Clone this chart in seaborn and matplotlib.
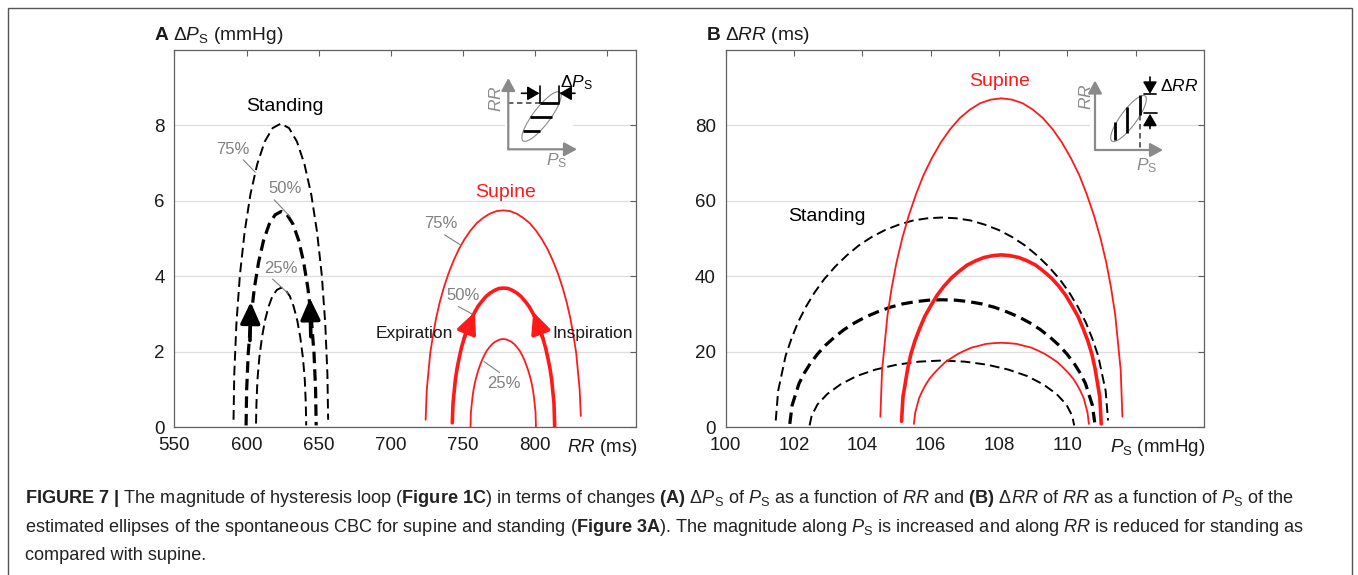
import matplotlib
matplotlib.use("Agg")
import matplotlib.pyplot as plt
import seaborn as sns
from matplotlib.patches import Ellipse, Rectangle

# ------------------------------------------------------------------ data
# Panel A : magnitude dPs (mmHg) as a function of RR (ms)
a_stand75_x = [591.0, 591.5, 593.0, 595.4, 598.7, 602.7, 607.4, 612.6, 618.1, 623.8,
               629.5, 635.0, 640.2, 644.9, 648.9, 652.2, 654.6, 656.1, 656.6]
a_stand75_y = [0.20, 1.40, 2.75, 4.03, 5.18, 6.17, 6.97, 7.57, 7.93, 8.05,
               7.93, 7.57, 6.97, 6.17, 5.18, 4.03, 2.75, 1.40, 0.20]
a_stand50_x = [599.7, 600.1, 601.2, 603.0, 605.4, 608.4, 611.8, 615.7, 619.8, 624.0,
               628.2, 632.3, 636.2, 639.6, 642.6, 645.0, 646.8, 647.9, 648.3]
a_stand50_y = [0.05, 1.00, 1.96, 2.86, 3.68, 4.38, 4.95, 5.38, 5.63, 5.72,
               5.63, 5.38, 4.95, 4.38, 3.68, 2.86, 1.96, 1.00, 0.05]
a_stand25_x = [606.6, 606.9, 607.6, 608.9, 610.7, 612.8, 615.3, 618.0, 621.0, 624.0,
               627.0, 630.0, 632.7, 635.2, 637.3, 639.1, 640.4, 641.1, 641.4]
a_stand25_y = [0.10, 0.64, 1.27, 1.85, 2.38, 2.83, 3.20, 3.48, 3.64, 3.70,
               3.64, 3.48, 3.20, 2.83, 2.38, 1.85, 1.27, 0.64, 0.05]
a_sup75_x = [724.2, 725.0, 727.4, 729.3, 731.4, 733.9, 736.8, 740.0, 743.4, 747.1, 751.1,
             755.2, 759.6, 764.1, 768.6, 773.3, 778.0,
             782.7, 787.4, 791.9, 796.4, 800.8, 804.9, 808.9, 812.6, 816.0, 819.2, 822.1,
             824.6, 826.7, 828.6, 831.0, 831.8]
a_sup75_y = [0.20, 1.00, 1.97, 2.43, 2.88, 3.30, 3.70, 4.07, 4.40, 4.71, 4.98,
             5.21, 5.41, 5.55, 5.66, 5.73, 5.75,
             5.73, 5.66, 5.55, 5.41, 5.21, 4.98, 4.71, 4.40, 4.07, 3.70, 3.30,
             2.88, 2.43, 1.97, 1.00, 0.30]
a_sup50_x = [742.7, 743.2, 744.8, 746.0, 747.5, 749.1, 751.0, 753.1, 755.4, 757.8, 760.4,
             763.2, 766.1, 769.0, 772.0, 775.1, 778.2,
             781.3, 784.4, 787.4, 790.3, 793.2, 796.0, 798.6, 801.0, 803.3, 805.4, 807.3,
             808.9, 810.4, 811.6, 813.2, 813.7]
a_sup50_y = [0.12, 0.64, 1.26, 1.56, 1.85, 2.12, 2.37, 2.61, 2.83, 3.02, 3.20,
             3.34, 3.47, 3.56, 3.63, 3.68, 3.69,
             3.68, 3.63, 3.56, 3.47, 3.34, 3.20, 3.02, 2.83, 2.61, 2.37, 2.12,
             1.85, 1.56, 1.26, 0.64, 0.00]
a_sup25_x = [755.3, 755.6, 756.7, 757.4, 758.3, 759.4, 760.6, 762.0, 763.4, 765.0, 766.6,
             768.4, 770.2, 772.1, 774.1, 776.0, 778.0,
             780.0, 781.9, 783.9, 785.8, 787.6, 789.4, 791.0, 792.6, 794.0, 795.4, 796.6,
             797.7, 798.6, 799.3, 800.4, 800.7]
a_sup25_y = [0.00, 0.41, 0.80, 0.99, 1.17, 1.34, 1.50, 1.65, 1.79, 1.92, 2.03,
             2.12, 2.20, 2.26, 2.30, 2.33, 2.34,
             2.33, 2.30, 2.26, 2.20, 2.12, 2.03, 1.92, 1.79, 1.65, 1.50, 1.34,
             1.17, 0.99, 0.80, 0.41, 0.00]

# Panel B : magnitude dRR (ms) as a function of Ps (mmHg)
b_sup75_x = [104.53, 104.58, 104.74, 104.86, 105.00, 105.17, 105.36, 105.57, 105.79, 106.04,
             106.30, 106.57, 106.86, 107.15, 107.45, 107.76, 108.07,
             108.38, 108.69, 108.99, 109.28, 109.57, 109.84, 110.10, 110.35, 110.57, 110.78,
             110.97, 111.14, 111.28, 111.40, 111.56, 111.61]
b_sup75_y = [2.8, 15.2, 29.8, 36.9, 43.6, 50.1, 56.1, 61.7, 66.8, 71.4,
             75.5, 79.0, 82.0, 84.2, 85.9, 86.85, 87.2,
             86.85, 85.9, 84.2, 82.0, 79.0, 75.5, 71.4, 66.8, 61.7, 56.1,
             50.1, 43.6, 36.9, 29.8, 15.2, 2.8]
b_sup50_x = [105.15, 105.19, 105.33, 105.42, 105.54, 105.68, 105.83, 106.01, 106.19, 106.39,
             106.61, 106.84, 107.07, 107.31, 107.56, 107.82, 108.07,
             108.32, 108.58, 108.83, 109.07, 109.30, 109.53, 109.75, 109.95, 110.13, 110.31,
             110.46, 110.60, 110.72, 110.81, 110.95, 110.99]
b_sup50_y = [1.6, 7.95, 15.6, 19.3, 22.9, 26.2, 29.4, 32.3, 35.0, 37.4,
             39.6, 41.4, 43.0, 44.1, 45.0, 45.5, 45.7,
             45.5, 45.0, 44.1, 43.0, 41.4, 39.6, 37.4, 35.0, 32.3, 29.4,
             26.2, 22.9, 19.3, 15.6, 7.95, 0.9]
b_sup25_x = [105.51, 105.55, 105.66, 105.75, 105.85, 105.97, 106.11, 106.26, 106.42, 106.60,
             106.79, 106.99, 107.19, 107.41, 107.62, 107.85, 108.07,
             108.29, 108.52, 108.73, 108.95, 109.15, 109.35, 109.54, 109.72, 109.88, 110.03,
             110.17, 110.29, 110.39, 110.48, 110.59, 110.63]
b_sup25_y = [0.9, 3.90, 7.66, 9.48, 11.2, 12.9, 14.4, 15.8, 17.2, 18.3,
             19.4, 20.3, 21.1, 21.6, 22.1, 22.3, 22.4,
             22.3, 22.1, 21.6, 21.1, 20.3, 19.4, 18.3, 17.2, 15.8, 14.4,
             12.9, 11.2, 9.48, 7.66, 3.90, 0.9]
b_stand75_x = [101.47, 101.54, 101.76, 101.93, 102.12, 102.35, 102.61, 102.89, 103.21, 103.54,
               103.90, 104.27, 104.67, 105.07, 105.48, 105.91, 106.33,
               106.75, 107.18, 107.59, 107.99, 108.39, 108.76, 109.12, 109.45, 109.77, 110.05,
               110.31, 110.54, 110.73, 110.90, 111.12, 111.19]
b_stand75_y = [1.8, 9.67, 19.0, 23.5, 27.8, 31.9, 35.8, 39.3, 42.6, 45.5,
               48.2, 50.4, 52.3, 53.7, 54.8, 55.4, 55.6,
               55.4, 54.8, 53.7, 52.3, 50.4, 48.2, 45.5, 42.6, 39.3, 35.8,
               31.9, 27.8, 23.5, 19.0, 9.67, 1.8]
b_stand50_x = [101.88, 101.95, 102.15, 102.30, 102.48, 102.69, 102.92, 103.19, 103.47, 103.78,
               104.11, 104.45, 104.81, 105.18, 105.56, 105.95, 106.34,
               106.73, 107.12, 107.50, 107.87, 108.23, 108.57, 108.90, 109.21, 109.49, 109.76,
               109.99, 110.20, 110.38, 110.53, 110.73, 110.80]
b_stand50_y = [0.9, 5.88, 11.6, 14.3, 16.9, 19.4, 21.7, 23.9, 25.9, 27.7,
               29.3, 30.6, 31.8, 32.7, 33.3, 33.7, 33.8,
               33.7, 33.3, 32.7, 31.8, 30.6, 29.3, 27.7, 25.9, 23.9, 21.7,
               19.4, 16.9, 14.3, 11.6, 5.88, 1.3]
b_stand25_x = [102.46, 102.52, 102.69, 102.98, 103.37, 103.84, 104.39, 105.01, 105.66, 106.33,
               107.00, 107.65, 108.27, 108.82, 109.29, 109.68, 109.97, 110.14, 110.20]
b_stand25_y = [0.5, 3.08, 6.05, 8.85, 11.4, 13.6, 15.3, 16.6, 17.4, 17.7,
               17.4, 16.6, 15.3, 13.6, 11.4, 8.85, 6.05, 3.08, 0.5]

a_xticks = [550, 600, 650, 700, 750, 800, 850]
a_xticklabels = ["550", "600", "650", "700", "750", "800", ""]
a_yticks = [0, 2, 4, 6, 8]
b_xticks = [100, 102, 104, 106, 108, 110, 112]
b_xticklabels = ["100", "102", "104", "106", "108", "110", ""]
b_yticks = [0, 20, 40, 60, 80]

# ------------------------------------------------------------------ style
sns.set_theme(style="white")
plt.rcParams["font.family"] = ["Liberation Sans", "DejaVu Sans"]
plt.rcParams["mathtext.fontset"] = "custom"
plt.rcParams["mathtext.rm"] = "Liberation Sans"
plt.rcParams["mathtext.it"] = "Liberation Sans:italic"
plt.rcParams["mathtext.bf"] = "Liberation Sans:bold"

RED = "#ff1a1a"
GRAY = "#808080"
TXT = "#1a1a1a"
W, H = 1358, 575

fig = plt.figure(figsize=(W / 100, H / 100), dpi=100)
fig.patch.set_facecolor("white")


def box(x0, x1, y0, y1):
    return [x0 / W, 1 - y1 / H, (x1 - x0) / W, (y1 - y0) / H]


axA = fig.add_axes(box(174.4, 635.9, 50, 427.3))
axB = fig.add_axes(box(725.5, 1204.1, 50, 427.3))

for ax in (axA, axB):
    ax.set_facecolor("white")
    for s in ax.spines.values():
        s.set_color("#606060")
        s.set_linewidth(0.9)
    ax.tick_params(direction="in", length=4, width=0.8, color="#606060",
                   labelcolor=TXT, labelsize=13.5, top=True, right=True, pad=7)
    ax.yaxis.grid(True, color="#dedede", lw=0.9)
    ax.xaxis.grid(False)
    ax.set_axisbelow(True)

axA.set_xlim(550, 870)
axA.set_ylim(0, 10)
axA.set_xticks(a_xticks)
axA.set_xticklabels(a_xticklabels)
axA.set_yticks(a_yticks)
axB.set_xlim(100, 114)
axB.set_ylim(0, 100)
axB.set_xticks(b_xticks)
axB.set_xticklabels(b_xticklabels)
axB.set_yticks(b_yticks)


def curve(ax, x, y, color, lw, ls="-"):
    sns.lineplot(x=x, y=y, ax=ax, sort=False, estimator=None, color=color,
                 lw=lw, linestyle=ls, legend=False)


thin_dash = (0, (5.0, 2.6))
thick_dash = (0, (3.6, 1.9))

curve(axA, a_stand75_x, a_stand75_y, "black", 1.4, thin_dash)
curve(axA, a_stand50_x, a_stand50_y, "black", 2.3, thick_dash)
curve(axA, a_stand25_x, a_stand25_y, "black", 1.4, thin_dash)
curve(axA, a_sup75_x, a_sup75_y, RED, 1.3)
curve(axA, a_sup50_x, a_sup50_y, RED, 2.6)
curve(axA, a_sup25_x, a_sup25_y, RED, 1.3)

curve(axB, b_stand75_x, b_stand75_y, "black", 1.4, thin_dash)
curve(axB, b_stand50_x, b_stand50_y, "black", 2.3, thick_dash)
curve(axB, b_stand25_x, b_stand25_y, "black", 1.4, thin_dash)
curve(axB, b_sup75_x, b_sup75_y, RED, 1.3)
curve(axB, b_sup50_x, b_sup50_y, RED, 2.6)
curve(axB, b_sup25_x, b_sup25_y, RED, 1.3)

# direction arrows (panel A)
arr = dict(arrowstyle="-|>,head_length=0.65,head_width=0.3", lw=2.6,
           shrinkA=0, shrinkB=0, mutation_scale=20)
axA.annotate("", xy=(602.9, 3.32), xytext=(602.4, 2.30), arrowprops=dict(color="black", **arr))
axA.annotate("", xy=(644.0, 3.42), xytext=(644.6, 2.40), arrowprops=dict(color="black", **arr))
axA.annotate("", xy=(758.4, 3.06), xytext=(751.0, 2.37), arrowprops=dict(color=RED, **arr))
axA.annotate("", xy=(798.8, 3.06), xytext=(805.4, 2.37), arrowprops=dict(color=RED, **arr))

# labels (panel A)
axA.text(626.4, 8.51, "Standing", fontsize=14, color="black", ha="center", va="center")
axA.text(779.6, 6.23, "Supine", fontsize=14, color=RED, ha="center", va="center")
axA.text(716.6, 2.48, "Expiration", fontsize=12.5, color=TXT, ha="center", va="center")
axA.text(840.0, 2.48, "Inspiration", fontsize=12.5, color=TXT, ha="center", va="center")

pct = [("75%", 590.6, 7.36, 597.7, 7.09, 606.1, 6.76),
       ("50%", 626.4, 6.34, 619.2, 6.03, 630.0, 5.59),
       ("25%", 623.5, 4.22, 618.0, 3.93, 628.8, 3.55),
       ("75%", 735.0, 5.39, 737.4, 5.10, 749.3, 4.81),
       ("50%", 750.5, 3.48, 746.9, 3.20, 757.6, 2.98),
       ("25%", 778.4, 1.15, 764.8, 1.74, 775.5, 1.45)]
for t, tx, ty, x0, y0, x1, y1 in pct:
    axA.text(tx, ty, t, fontsize=12, color=GRAY, ha="center", va="center")
    axA.plot([x0, x1], [y0, y1], color=GRAY, lw=0.8)

# labels (panel B)
axB.text(108.02, 91.6, "Supine", fontsize=14, color=RED, ha="center", va="center")
axB.text(102.96, 55.75, "Standing", fontsize=14, color="black", ha="center", va="center")

# axis labels in place of last tick label
axA.text(1.004, -0.053, "$RR$ (ms)", transform=axA.transAxes, ha="right", va="center",
         fontsize=13.5, color=TXT)
axB.text(1.004, -0.053, r"$P_\mathrm{S}$ (mmHg)", transform=axB.transAxes, ha="right",
         va="center", fontsize=13.5, color=TXT)

# panel titles
fig.text(153.8 / W, 1 - 36 / H, r"$\mathbf{A}$ Δ$P_\mathrm{S}$ (mmHg)", fontsize=13.8,
         color=TXT, ha="left", va="center")
fig.text(705.5 / W, 1 - 36 / H, r"$\mathbf{B}$ Δ$RR$ (ms)", fontsize=13.8,
         color=TXT, ha="left", va="center")


# ------------------------------------------------------------------ schematic insets
def inset(x0, x1, y0, y1):
    ax = fig.add_axes(box(x0, x1, y0, y1))
    ax.set_xlim(x0, x1)
    ax.set_ylim(y1, y0)
    ax.set_xticks([])
    ax.set_yticks([])
    for s in ax.spines.values():
        s.set_visible(False)
    ax.set_facecolor("white")
    return ax


def arrow(ax, tail, tip, color, lw=1.5, hl=0.55, hw=0.3, ms=14):
    ax.annotate("", xy=tip, xytext=tail, annotation_clip=False,
                arrowprops=dict(arrowstyle=f"-|>,head_length={hl},head_width={hw}",
                                color=color, lw=lw, shrinkA=0, shrinkB=0, mutation_scale=ms))


IG = "#8a8a8a"
# inset A
ia = inset(505, 573, 70, 158)
arrow(ia, (508.3, 149.3), (508.3, 78), IG, lw=1.6)
arrow(ia, (508.3, 149.3), (577, 149.3), IG, lw=1.6)
ia.add_patch(Ellipse((541.5, 116.5), 61, 17, angle=-52.8, fill=False, ec=IG, lw=0.8, clip_on=False))
ia.plot([508.3, 540], [102.7, 102.7], color="#555555", lw=1.3, ls=(0, (3, 2)), clip_on=False)
for (xa, xb, yy) in [(540, 559, 102.7), (530, 551.7, 116.7), (523.3, 540, 130.7)]:
    ia.plot([xa, xb], [yy, yy], color="black", lw=2.0, clip_on=False, solid_capstyle="butt")
ia.plot([540, 540], [86, 102.7], color="black", lw=1.2, clip_on=False)
ia.plot([559, 559], [86, 102.7], color="black", lw=1.2, clip_on=False)
arrow(ia, (521.5, 93.3), (539.5, 93.3), "black", lw=1.2, hl=0.6, hw=0.35, ms=12)
arrow(ia, (575, 93.3), (559.5, 93.3), "black", lw=1.2, hl=0.6, hw=0.35, ms=12)
ia.text(496, 99, "$RR$", rotation=90, color=IG, fontsize=12.5, ha="center", va="center", clip_on=False)
ia.text(557, 161, r"$P_\mathrm{S}$", color=IG, fontsize=12.5, ha="center", va="center", clip_on=False)
ia.text(560.5, 83, r"Δ$P_\mathrm{S}$", color="black", fontsize=12.5, ha="left", va="center", clip_on=False)

# inset B
ib = inset(1090, 1158, 70, 158)
arrow(ib, (1095, 150), (1095, 80.5), IG, lw=1.6)
arrow(ib, (1095, 150), (1163, 150), IG, lw=1.6)
ib.add_patch(Ellipse((1128.5, 118.5), 56, 16, angle=-53.5, fill=False, ec=IG, lw=0.8, clip_on=False))
ib.plot([1140, 1140], [115, 150], color="#555555", lw=1.3, ls=(0, (3, 2)), clip_on=False)
for (xx, ya, yb) in [(1115, 121.7, 140), (1126.7, 106.7, 133.3), (1140, 95, 115)]:
    ib.plot([xx, xx], [ya, yb], color="black", lw=2.0, clip_on=False, solid_capstyle="butt")
ib.plot([1144, 1156], [94.3, 94.3], color="black", lw=1.2, clip_on=False)
ib.plot([1144, 1157], [113.3, 113.3], color="black", lw=1.2, clip_on=False)
arrow(ib, (1150, 77), (1150, 93.8), "black", lw=1.2, hl=0.6, hw=0.35, ms=12)
arrow(ib, (1150, 128.5), (1150, 113.8), "black", lw=1.2, hl=0.6, hw=0.35, ms=12)
ib.text(1086, 97, "$RR$", rotation=90, color=IG, fontsize=12.5, ha="center", va="center", clip_on=False)
ib.text(1146.7, 166, r"$P_\mathrm{S}$", color=IG, fontsize=12.5, ha="center", va="center", clip_on=False)
ib.text(1160, 86, r"Δ$RR$", color="black", fontsize=12.5, ha="left", va="center", clip_on=False)

# ------------------------------------------------------------------ frame and caption
fig.add_artist(Rectangle((8 / W, -0.02), (1352 - 8) / W, (567 / H) + 0.02, transform=fig.transFigure,
                         fill=False, ec="#555555", lw=1.0))

cap1 = (r"$\mathbf{FIGURE\ 7\ |}$ The magnitude of hysteresis loop ($\mathbf{Figure\ 1C}$) in terms of "
        r"changes $\mathbf{(A)}$ Δ$P_\mathrm{S}$ of $P_\mathrm{S}$ as a function of $RR$ and "
        r"$\mathbf{(B)}$ Δ$RR$ of $RR$ as a function of $P_\mathrm{S}$ of the")
cap2 = (r"estimated ellipses of the spontaneous CBC for supine and standing ($\mathbf{Figure\ 3A}$). "
        r"The magnitude along $P_\mathrm{S}$ is increased and along $RR$ is reduced for standing as")
cap3 = "compared with supine."
for txt, base in [(cap1, 503.0), (cap2, 532.0), (cap3, 560.0)]:
    fig.text(25 / W, 1 - base / H, txt, fontsize=13.1, color="#222222", ha="left", va="baseline")

fig.savefig("out.png", dpi=100, facecolor="white")
